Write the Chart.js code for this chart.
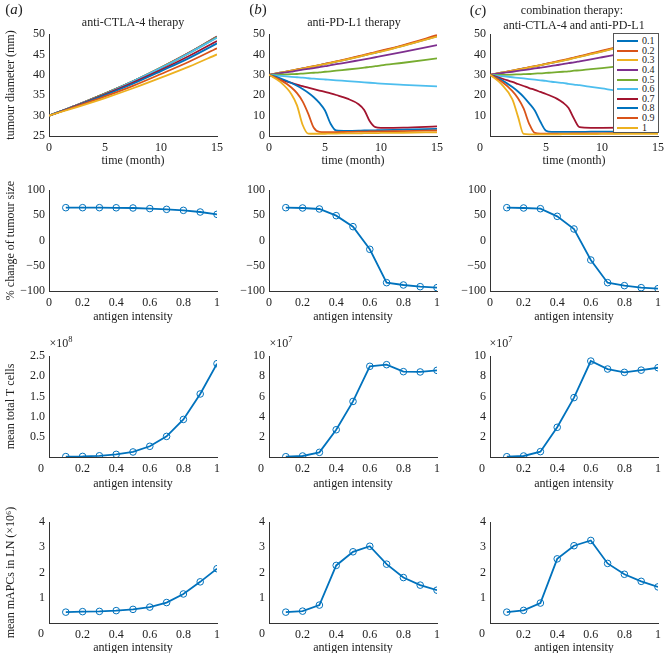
<!DOCTYPE html>
<html>
<head>
<meta charset="utf-8">
<script src="https://cdn.jsdelivr.net/npm/chart.js@4/dist/chart.umd.min.js"></script>
<style>
  html, body { margin: 0; padding: 0; width: 664px; height: 653px; overflow: hidden; background: #fff; }
  body { position: relative; font-family: 'Liberation Serif', 'DejaVu Serif', serif; color: #222; }
  #plots canvas { position: absolute; }
  .t { position: absolute; white-space: nowrap; font-size: 12px; line-height: 1; transform: translate(-50%, -50%); }
  .t sup { font-size: 8.5px; vertical-align: 5px; line-height: 0; }
  .letter { font-size: 15px; }
  #legend { position: absolute; left: 613px; top: 33px; width: 44px; height: 98px; background: #fff; border: 1px solid #555; }
  #legend .sw { position: absolute; left: 3px; width: 21px; height: 2px; }
  #legend .lb { position: absolute; left: 28px; font-size: 10px; line-height: 10px; }
</style>
</head>
<body>
<div id="plots"></div>

<div class="t letter" style="left:14px;top:9px">(<i>a</i>)</div>
<div class="t letter" style="left:258px;top:9px">(<i>b</i>)</div>
<div class="t letter" style="left:478px;top:10px">(<i>c</i>)</div>
<div class="t" style="left:133px;top:22px">anti-CTLA-4 therapy</div>
<div class="t" style="left:354px;top:22px">anti-PD-L1 therapy</div>
<div class="t" style="left:572px;top:10px">combination therapy:</div>
<div class="t" style="left:574px;top:25px">anti-CTLA-4 and anti-PD-L1</div>

<div class="t" style="left:61px;top:343px">×10<sup>8</sup></div>
<div class="t" style="left:281px;top:343px">×10<sup>7</sup></div>
<div class="t" style="left:501px;top:343px">×10<sup>7</sup></div>

<div class="t" style="left:480px;top:147px">0</div>
<div class="t" style="left:41px;top:468px">0</div>
<div class="t" style="left:261px;top:468px">0</div>
<div class="t" style="left:482px;top:468px">0</div>
<div class="t" style="left:41px;top:633px">0</div>
<div class="t" style="left:262px;top:633px">0</div>
<div class="t" style="left:482px;top:633px">0</div>

<div id="legend"></div>

<script>
// series for the time-course panels (antigen intensity)
const seriesLabels = ['0.1', '0.2', '0.3', '0.4', '0.5', '0.6', '0.7', '0.8', '0.9', '1'];
const lineColors = ['#0072BD', '#D95319', '#EDB120', '#7E2F8E', '#77AC30', '#4DBEEE', '#A2142F', '#0072BD', '#D95319', '#EDB120'];

// (a) anti-CTLA-4: tumour diameter (mm) vs time (month)
const timeA = [0, 2.5, 5, 7.5, 10, 12.5, 15];
const diamA = [
    [30, 32.6, 35.4, 38.4, 41.8, 45.4, 49.4],
    [30, 32.6, 35.4, 38.4, 41.8, 45.4, 49.4],
    [30, 32.6, 35.4, 38.4, 41.8, 45.4, 49.3],
    [30, 32.6, 35.4, 38.4, 41.7, 45.4, 49.3],
    [30, 32.6, 35.4, 38.4, 41.7, 45.3, 49.2],
    [30, 32.6, 35.3, 38.4, 41.7, 45.3, 49.1],
    [30, 32.5, 35.2, 38.1, 41.2, 44.6, 48.3],
    [30, 32.4, 35.0, 37.8, 40.9, 44.1, 47.7],
    [30, 32.3, 34.7, 37.3, 40.2, 43.2, 46.5],
    [30, 32.1, 34.3, 36.7, 39.3, 42.0, 45.0]
];

// (b) anti-PD-L1
const timeB = [0, 1, 2, 2.5, 3, 3.5, 4, 4.5, 5, 5.5, 6, 7, 8, 8.5, 9, 9.5, 10, 12, 15];
const diamB = [
    [30, 31.0, 32.0, 32.5, 33.1, 33.6, 34.1, 34.7, 35.3, 35.8, 36.4, 37.6, 38.9, 39.5, 40.2, 40.8, 41.5, 44.3, 48.9],
    [30, 31.0, 32.0, 32.6, 33.1, 33.7, 34.2, 34.8, 35.4, 36.0, 36.6, 37.8, 39.1, 39.8, 40.5, 41.1, 41.8, 44.6, 49.4],
    [30, 31.0, 32.0, 32.5, 33.0, 33.6, 34.1, 34.7, 35.2, 35.8, 36.4, 37.6, 38.8, 39.5, 40.1, 40.8, 41.4, 44.2, 48.7],
    [30, 30.8, 31.6, 32.0, 32.5, 32.9, 33.3, 33.8, 34.2, 34.7, 35.2, 36.1, 37.1, 37.6, 38.1, 38.6, 39.1, 41.2, 44.6],
    [30, 30.1, 30.3, 30.4, 30.6, 30.8, 31.0, 31.2, 31.5, 31.7, 32.0, 32.6, 33.2, 33.5, 33.9, 34.2, 34.6, 35.9, 38.1],
    [30, 29.5, 29.0, 28.8, 28.6, 28.3, 28.1, 27.9, 27.7, 27.5, 27.3, 26.9, 26.5, 26.3, 26.1, 25.9, 25.7, 25.1, 24.3],
    [30, 27.8, 26.0, 25.2, 24.4, 23.7, 23.0, 22.3, 21.6, 20.9, 20.1, 18.3, 15.6, 12.8, 7.2, 4.3, 4.0, 4.1, 4.7],
    [30, 28.3, 26.0, 24.6, 23.0, 21.2, 19.0, 16.2, 12.5, 6.0, 2.7, 2.5, 2.6, 2.7, 2.7, 2.8, 2.9, 3.1, 3.5],
    [30, 27.5, 23.8, 21.0, 17.0, 11.0, 4.0, 2.0, 1.9, 1.9, 1.9, 2.0, 2.1, 2.1, 2.2, 2.2, 2.3, 2.4, 2.7],
    [30, 26.5, 20.5, 15.0, 5.5, 1.2, 1.1, 1.1, 1.1, 1.2, 1.2, 1.3, 1.3, 1.4, 1.4, 1.4, 1.5, 1.6, 1.8]
];

// (c) combination therapy
const timeC = [0, 1, 2, 2.5, 3, 3.5, 4, 4.5, 5, 5.5, 6, 6.5, 7, 7.5, 8, 9, 10, 12, 15];
const diamC = [
    [30, 31.0, 32.0, 32.5, 33.1, 33.6, 34.1, 34.7, 35.3, 35.8, 36.4, 37.0, 37.6, 38.3, 38.9, 40.2, 41.5, 44.3, 48.8],
    [30, 31.0, 32.0, 32.6, 33.1, 33.7, 34.2, 34.8, 35.4, 36.0, 36.6, 37.2, 37.8, 38.4, 39.1, 40.5, 41.8, 44.6, 49.2],
    [30, 31.0, 32.0, 32.5, 33.0, 33.6, 34.1, 34.7, 35.2, 35.8, 36.3, 36.9, 37.5, 38.2, 38.8, 40.1, 41.4, 44.2, 48.6],
    [30, 30.8, 31.5, 31.9, 32.3, 32.7, 33.1, 33.5, 33.9, 34.4, 34.8, 35.2, 35.7, 36.1, 36.6, 37.6, 38.6, 40.6, 43.8],
    [30, 30.0, 30.1, 30.2, 30.3, 30.4, 30.6, 30.7, 30.9, 31.1, 31.3, 31.5, 31.7, 32.0, 32.2, 32.8, 33.3, 34.5, 36.6],
    [30, 29.4, 28.8, 28.5, 28.2, 27.9, 27.6, 27.3, 27.0, 26.6, 26.3, 26.0, 25.6, 25.2, 24.9, 24.1, 23.3, 21.6, 18.3],
    [30, 28.3, 26.5, 25.5, 24.5, 23.5, 22.6, 21.6, 20.6, 19.5, 18.2, 16.4, 13.8, 8.5, 4.3, 4.0, 4.0, 4.1, 4.5],
    [30, 27.5, 24.0, 21.8, 19.2, 16.0, 12.5, 7.0, 2.6, 2.0, 2.0, 2.0, 2.0, 2.0, 2.0, 2.1, 2.1, 2.3, 2.8],
    [30, 26.8, 22.0, 18.5, 13.5, 6.0, 1.5, 1.2, 1.2, 1.2, 1.2, 1.2, 1.2, 1.3, 1.3, 1.3, 1.3, 1.4, 1.5],
    [30, 25.5, 18.0, 9.5, 1.0, 0.8, 0.8, 0.8, 0.8, 0.8, 0.8, 0.9, 0.9, 0.9, 0.9, 0.9, 1.0, 1.0, 1.1]
];

// antigen intensity sweeps
const intensity = [0.1, 0.2, 0.3, 0.4, 0.5, 0.6, 0.7, 0.8, 0.9, 1];
const pctA = [65, 65, 65, 64.8, 64.4, 63.2, 61.7, 59.7, 56.4, 51.8];
const pctB = [65, 64.4, 62.4, 49.2, 27.4, -17.5, -83.5, -88.1, -91.4, -93.4];
const pctC = [65, 64.4, 63, 47.9, 22.8, -38.6, -83.5, -89.4, -93.4, -95.4];
const tcellA = [0.01, 0.015, 0.03, 0.065, 0.125, 0.265, 0.51, 0.93, 1.56, 2.31];   // x10^8
const tcellB = [0.03, 0.1, 0.46, 2.7, 5.5, 8.98, 9.14, 8.45, 8.42, 8.58];          // x10^7
const tcellC = [0.03, 0.1, 0.53, 2.94, 5.88, 9.5, 8.71, 8.38, 8.6, 8.84];          // x10^7
const apcA = [0.43, 0.45, 0.46, 0.49, 0.54, 0.63, 0.81, 1.15, 1.63, 2.15];
const apcB = [0.43, 0.47, 0.71, 2.28, 2.82, 3.04, 2.33, 1.8, 1.5, 1.3];
const apcC = [0.43, 0.5, 0.79, 2.54, 3.06, 3.27, 2.36, 1.93, 1.65, 1.43];

const BLUE = '#0072BD';
const AXIS = '#333';
const TXT = '#222';
const FONT = { family: "'Liberation Serif', serif", size: 12 };

// plot boxes in page pixels
const cols = [{ L: 49, R: 217 }, { L: 269, R: 437 }, { L: 490, R: 658 }];
const rows = [
    { T: 34, B: 136, xh: 32 },
    { T: 190, B: 291, xh: 33 },
    { T: 356, B: 457, xh: 34 },
    { T: 522, B: 623, xh: 32 }
];
const YW = 49, PT = 40, PR = 14;

function fmt(v) { return String(Math.round(v * 10) / 10).replace('-', '\u2212'); }
function noZero(f) { return function (v) { return Math.abs(v) < 1e-9 ? '' : f(v); }; }

function panel(r, c, datasets, xo, yo) {
    var cv = document.createElement('canvas');
    cv.width = cols[c].R - cols[c].L + YW + PR;
    cv.height = rows[r].B - rows[r].T + PT + rows[r].xh;
    cv.style.left = (cols[c].L - YW) + 'px';
    cv.style.top = (rows[r].T - PT) + 'px';
    document.getElementById('plots').appendChild(cv);
    new Chart(cv, {
        type: 'line',
        data: { datasets: datasets },
        options: {
            responsive: false,
            animation: false,
            layout: { padding: { top: PT, right: PR, left: 0, bottom: 0 } },
            plugins: { legend: { display: false }, tooltip: { enabled: false } },
            scales: {
                x: {
                    type: 'linear', min: xo.min, max: xo.max,
                    grid: { display: false, drawTicks: false },
                    border: { color: AXIS, width: 1 },
                    ticks: { stepSize: xo.step, autoSkip: false, maxRotation: 0, padding: 5, color: TXT, font: FONT, callback: xo.cb },
                    title: { display: true, text: xo.title, color: TXT, font: FONT, padding: { top: 0, bottom: 0 } },
                    afterFit: function (s) { s.height = rows[r].xh; }
                },
                y: {
                    min: yo.min, max: yo.max,
                    grid: { display: false, drawTicks: false },
                    border: { color: AXIS, width: 1 },
                    ticks: { stepSize: yo.step, autoSkip: false, padding: 4, color: TXT, font: FONT, callback: yo.cb },
                    title: { display: !!yo.title, text: yo.title || '', color: TXT, font: FONT, padding: { top: 4, bottom: 0 } },
                    afterFit: function (s) { s.width = YW; }
                }
            }
        }
    });
}

function timeSets(times, rowsOfValues) {
    return rowsOfValues.map(function (vals, i) {
        return {
            label: seriesLabels[i],
            data: times.map(function (t, k) { return { x: t, y: vals[k] }; }),
            borderColor: lineColors[i],
            borderWidth: 1.8,
            pointRadius: 0,
            cubicInterpolationMode: 'monotone',
            order: rowsOfValues.length - i
        };
    });
}

function sweepSet(vals) {
    return [{
        data: intensity.map(function (x, k) { return { x: x, y: vals[k] }; }),
        borderColor: BLUE,
        borderWidth: 1.8,
        pointRadius: 3.3,
        pointBorderWidth: 1,
        pointBorderColor: BLUE,
        pointBackgroundColor: 'rgba(255,255,255,0)',
        tension: 0
    }];
}

var timeX = { min: 0, max: 15, step: 5, title: 'time (month)', cb: fmt };
var timeXc = { min: 0, max: 15, step: 5, title: 'time (month)', cb: noZero(fmt) };
var agX = { min: 0, max: 1, step: 0.2, title: 'antigen intensity', cb: fmt };
var agXnz = { min: 0, max: 1, step: 0.2, title: 'antigen intensity', cb: noZero(fmt) };

// row 1
panel(0, 0, timeSets(timeA, diamA), timeX, { min: 25, max: 50, step: 5, title: 'tumour diameter (mm)', cb: fmt });
panel(0, 1, timeSets(timeB, diamB), timeX, { min: 0, max: 50, step: 10, cb: fmt });
panel(0, 2, timeSets(timeC, diamC), timeXc, { min: 0, max: 50, step: 10, cb: noZero(fmt) });

// row 2
var pctY = { min: -100, max: 100, step: 50, cb: fmt };
panel(1, 0, sweepSet(pctA), agX, Object.assign({}, pctY, { title: '% change of tumour size' }));
panel(1, 1, sweepSet(pctB), agX, pctY);
panel(1, 2, sweepSet(pctC), agX, pctY);

// row 3
panel(2, 0, sweepSet(tcellA), agXnz, { min: 0, max: 2.5, step: 0.5, title: 'mean total T cells', cb: noZero(function (v) { return v.toFixed(1); }) });
panel(2, 1, sweepSet(tcellB), agXnz, { min: 0, max: 10, step: 2, cb: noZero(fmt) });
panel(2, 2, sweepSet(tcellC), agXnz, { min: 0, max: 10, step: 2, cb: noZero(fmt) });

// row 4
var apcY = { min: 0, max: 4, step: 1, cb: noZero(fmt) };
panel(3, 0, sweepSet(apcA), agXnz, Object.assign({}, apcY, { title: 'mean mAPCs in LN (\u00d710\u2076)' }));
panel(3, 1, sweepSet(apcB), agXnz, apcY);
panel(3, 2, sweepSet(apcC), agXnz, apcY);

// legend of panel (c), drawn over the plot
var lg = document.getElementById('legend');
seriesLabels.forEach(function (name, i) {
    var cy = 7 + i * 9.63;
    var sw = document.createElement('div');
    sw.className = 'sw';
    sw.style.top = (cy - 1) + 'px';
    sw.style.background = lineColors[i];
    lg.appendChild(sw);
    var lb = document.createElement('div');
    lb.className = 'lb';
    lb.style.top = (cy - 5) + 'px';
    lb.textContent = name;
    lg.appendChild(lb);
});
</script>
</body>
</html>
